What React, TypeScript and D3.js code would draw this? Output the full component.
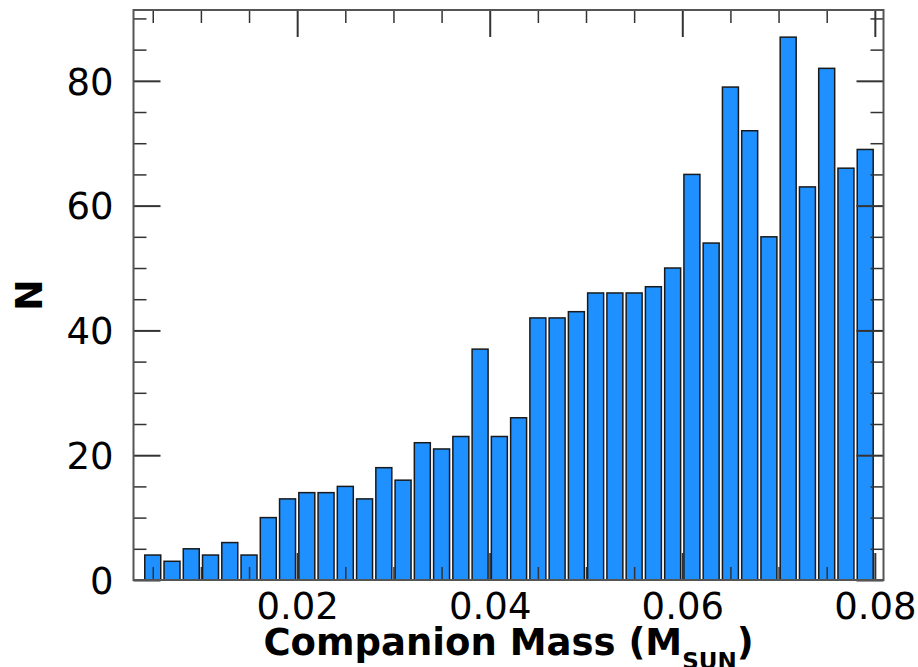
/** Histogram of companion masses (N per 0.002 Msun bin). */

import { useRef, useEffect } from 'react'
import * as d3 from 'd3'

// bin centres (Msun)
const massBins = [
  0.005, 0.007, 0.009, 0.011, 0.013, 0.015, 0.017, 0.019, 0.021, 0.023,
  0.025, 0.027, 0.029, 0.031, 0.033, 0.035, 0.037, 0.039, 0.041, 0.043,
  0.045, 0.047, 0.049, 0.051, 0.053, 0.055, 0.057, 0.059, 0.061, 0.063,
  0.065, 0.067, 0.069, 0.071, 0.073, 0.075, 0.077, 0.079,
]
const counts = [
  4, 3, 5, 4, 6, 4, 10, 13, 14, 14,
  15, 13, 18, 16, 22, 21, 23, 37, 23, 26,
  42, 42, 43, 46, 46, 46, 47, 50, 65, 54,
  79, 72, 55, 87, 63, 82, 66, 69,
]
const xMajor = [0.02, 0.04, 0.06, 0.08]
const xMinor = [0.005, 0.01, 0.015, 0.025, 0.03, 0.035, 0.045, 0.05, 0.055, 0.065, 0.07, 0.075]
const yMajor = [0, 20, 40, 60, 80]
const yMinor = [5, 10, 15, 25, 30, 35, 45, 50, 55, 65, 70, 75, 85, 90]

const W = 918
const H = 667
const FONT = '"DejaVu Sans", Verdana, sans-serif'
const halfBar = 0.00083

export default function App() {
  const svgRef = useRef<SVGSVGElement>(null)

  useEffect(() => {
    if (!svgRef.current) return
    const svg = d3.select(svgRef.current)
    svg.selectAll('*').remove()

    const left = 133.5, right = 883.5, top = 10, bottom = 580
    const x = d3.scaleLinear().domain([0.003, 0.0809]).range([left, right])
    const y = d3.scaleLinear().domain([0, 91.35]).range([bottom, top])

    // bars
    svg.append('g')
      .selectAll('rect')
      .data(massBins)
      .join('rect')
      .attr('x', (d) => x(d - halfBar))
      .attr('width', (d) => x(d + halfBar) - x(d - halfBar))
      .attr('y', (_, i) => y(counts[i]!))
      .attr('height', (_, i) => y(0) - y(counts[i]!))
      .attr('fill', '#1e90ff')
      .attr('stroke', '#1a1a1a')
      .attr('stroke-width', 1.5)

    const tickColor = '#333'
    const style = (g: d3.Selection<SVGGElement, unknown, null, undefined>, w: number) => {
      g.select('.domain').remove()
      g.selectAll('.tick line').attr('stroke', tickColor).attr('stroke-width', w)
      g.selectAll('.tick text')
        .attr('fill', '#000')
        .attr('font-family', FONT)
        .attr('font-size', 37)
    }

    // bottom
    svg.append('g').attr('transform', `translate(0,${bottom})`)
      .call(d3.axisBottom(x).tickValues(xMajor).tickSize(-27).tickPadding(12.5).tickFormat(d3.format('.2f')))
      .call((g) => style(g, 2))
    svg.append('g').attr('transform', `translate(0,${bottom})`)
      .call(d3.axisBottom(x).tickValues(xMinor).tickSize(-13).tickFormat(() => ''))
      .call((g) => style(g, 1.5))
    // top
    svg.append('g').attr('transform', `translate(0,${top})`)
      .call(d3.axisTop(x).tickValues(xMajor).tickSize(-27).tickFormat(() => ''))
      .call((g) => style(g, 2))
    svg.append('g').attr('transform', `translate(0,${top})`)
      .call(d3.axisTop(x).tickValues(xMinor).tickSize(-13).tickFormat(() => ''))
      .call((g) => style(g, 1.5))
    // left
    svg.append('g').attr('transform', `translate(${left},0)`)
      .call(d3.axisLeft(y).tickValues(yMajor).tickSize(-27).tickPadding(20).tickFormat(d3.format('d')))
      .call((g) => style(g, 2))
      .call((g) => g.selectAll('.tick text').attr('dy', '0.36em'))
    svg.append('g').attr('transform', `translate(${left},0)`)
      .call(d3.axisLeft(y).tickValues(yMinor).tickSize(-13).tickFormat(() => ''))
      .call((g) => style(g, 1.5))
    // right
    svg.append('g').attr('transform', `translate(${right},0)`)
      .call(d3.axisRight(y).tickValues(yMajor).tickSize(-27).tickFormat(() => ''))
      .call((g) => style(g, 2))
    svg.append('g').attr('transform', `translate(${right},0)`)
      .call(d3.axisRight(y).tickValues(yMinor).tickSize(-13).tickFormat(() => ''))
      .call((g) => style(g, 1.5))

    // frame
    svg.append('rect')
      .attr('x', left).attr('y', top)
      .attr('width', right - left).attr('height', bottom - top)
      .attr('fill', 'none')
      .attr('stroke', '#555')
      .attr('stroke-width', 2)

    // x title
    const xt = svg.append('text')
      .attr('x', (left + right) / 2)
      .attr('y', 655)
      .attr('text-anchor', 'middle')
      .attr('font-family', FONT)
      .attr('font-weight', 'bold')
      .attr('font-size', 37)
      .attr('fill', '#000')
    xt.append('tspan').text('Companion Mass (M')
    xt.append('tspan').attr('font-size', 23).attr('dy', 14).text('SUN')
    xt.append('tspan').attr('dy', -14).text(')')

    // y title
    svg.append('text')
      .attr('transform', `translate(41.5,${(top + bottom) / 2}) rotate(-90)`)
      .attr('text-anchor', 'middle')
      .attr('font-family', FONT)
      .attr('font-weight', 'bold')
      .attr('font-size', 38)
      .attr('fill', '#000')
      .text('N')
  }, [])

  return (
    <svg
      ref={svgRef}
      width={W}
      height={H}
      style={{ position: 'absolute', left: 0, top: 0, background: '#fff' }}
    />
  )
}
